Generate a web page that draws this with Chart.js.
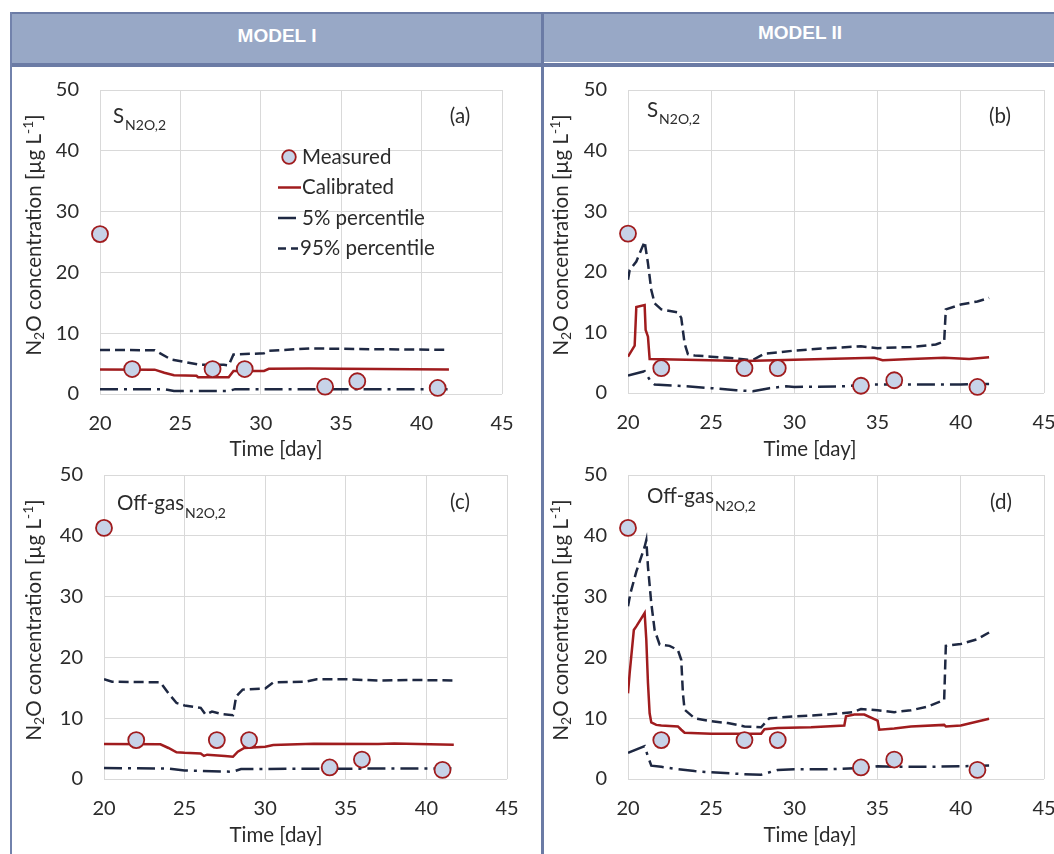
<!DOCTYPE html>
<html><head><meta charset="utf-8">
<script src="https://cdn.jsdelivr.net/npm/chart.js@4.4.0/dist/chart.umd.min.js"></script>
<style>
html,body{margin:0;padding:0;background:#fff;}
body{width:1054px;height:854px;overflow:hidden;position:relative;}
.bar{position:absolute;}
canvas{position:absolute;}
.hdr{position:absolute;color:#fff;font:bold 19px "Liberation Sans",Arial,sans-serif;transform:translate(-50%,-50%);white-space:nowrap;}
</style></head><body>
<div class="bar" style="left:10px;top:13px;width:1044px;height:52px;background:#98A8C6"></div>
<div class="bar" style="left:10px;top:12px;width:1044px;height:2px;background:#6B7BA5"></div>
<div class="bar" style="left:10px;top:63px;width:1044px;height:4px;background:#6B7BA5"></div>
<div class="bar" style="left:544px;top:62px;width:510px;height:1px;background:#ffffff"></div>
<div class="bar" style="left:10px;top:12px;width:2px;height:842px;background:#7282AC"></div>
<div class="bar" style="left:541px;top:12px;width:3px;height:842px;background:#6B7BA5"></div>
<div class="hdr" style="left:277px;top:35.5px">MODEL I</div>
<div class="hdr" style="left:800px;top:33px">MODEL II</div>

<canvas id="cA" width="529" height="400" style="left:12px;top:67px;width:529px;height:400px"></canvas>
<canvas id="cB" width="512" height="400" style="left:544px;top:67px;width:512px;height:400px"></canvas>
<canvas id="cC" width="529" height="402" style="left:12px;top:452px;width:529px;height:402px"></canvas>
<canvas id="cD" width="512" height="402" style="left:544px;top:452px;width:512px;height:402px"></canvas>

<script>
// ---------------- DATA ----------------
const measuredDays = [20, 22, 27, 29, 34, 36, 41];
const measuredS = [26.3, 4.1, 4.1, 4.1, 1.2, 2.1, 1.0];
const measuredOffGas = [41.3, 6.4, 6.4, 6.4, 1.9, 3.2, 1.5];

// Model I - S_N2O,2 (a)
const calDaysA = [20, 23.4, 24.0, 24.6, 26.0, 26.1, 28.0, 28.3, 30.2, 30.5, 33, 35, 41.7];
const calA     = [4.05, 4.0, 3.5, 3.1, 3.0, 2.75, 2.75, 3.8, 3.8, 4.15, 4.2, 4.15, 4.05];
const p95DaysA = [20, 23.4, 24.4, 25.4, 26.2, 27.7, 28.0, 28.3, 30.2, 30.5, 33.1, 36, 41.7];
const p95A     = [7.25, 7.2, 5.7, 5.2, 4.8, 4.8, 4.7, 6.5, 6.7, 7.1, 7.5, 7.4, 7.25];
const p5DaysA  = [20, 24.0, 24.6, 28.0, 28.4, 41.7];
const p5A      = [0.8, 0.8, 0.5, 0.5, 0.8, 0.8];

// Model II - S_N2O,2 (b)
const calDaysB = [20, 20.4, 20.5, 21.0, 21.06, 21.2, 21.3, 23.5, 27, 30, 34.8, 35.3, 37, 39, 40.5, 41.7];
const calB     = [6.0, 7.8, 14.2, 14.5, 10.4, 9.3, 5.6, 5.5, 5.3, 5.5, 5.8, 5.4, 5.6, 5.8, 5.6, 5.9];
const p95DaysB = [20, 20.1, 20.5, 21.0, 21.2, 21.4, 21.6, 22, 23, 23.2, 23.4, 23.6, 24, 25, 26, 27.2, 27.6, 28.2, 29, 30, 32, 34, 35, 37, 38.5, 39, 39.1, 40, 41, 41.7];
const p95B     = [18.7, 20.3, 21.7, 25.0, 21.4, 17.0, 14.8, 13.8, 13.3, 12.4, 8.2, 6.4, 6.2, 6.0, 5.8, 5.5, 5.6, 6.5, 6.7, 7.0, 7.4, 7.7, 7.4, 7.6, 8.0, 8.5, 13.8, 14.6, 15.1, 15.7];
const p5DaysB  = [20, 21.0, 21.3, 21.6, 23, 25, 26.5, 27.5, 28, 28.5, 29.5, 30, 33, 34.5, 36, 38, 40, 41.7];
const p5B      = [2.9, 3.6, 2.2, 1.4, 1.2, 0.8, 0.45, 0.3, 0.55, 0.8, 1.1, 1.0, 1.1, 1.4, 1.4, 1.4, 1.4, 1.5];

// Model I - Off-gas (c)
const calDaysC = [20, 23.5, 24.0, 24.5, 25.0, 26.0, 26.2, 26.4, 27.5, 28.0, 28.3, 28.7, 30.0, 30.5, 33, 37, 38, 41.7];
const calC     = [5.75, 5.7, 5.1, 4.4, 4.3, 4.2, 3.8, 4.0, 3.8, 3.65, 4.5, 5.1, 5.3, 5.6, 5.8, 5.75, 5.85, 5.65];
const p95DaysC = [20, 20.5, 23.5, 24.0, 24.5, 25.0, 26.0, 26.3, 26.7, 27.3, 28.0, 28.2, 28.6, 30.0, 30.5, 32.5, 33.2, 35, 37, 39, 41.7];
const p95C     = [16.4, 16.0, 15.9, 14.1, 12.5, 12.1, 11.7, 10.6, 11.1, 10.7, 10.5, 13.6, 14.7, 14.9, 15.9, 16.0, 16.4, 16.4, 16.2, 16.3, 16.2];
const p5DaysC  = [20, 24, 25, 28, 28.5, 41.7];
const p5C      = [1.8, 1.7, 1.4, 1.2, 1.65, 1.75];

// Model II - Off-gas (d)
const calDaysD = [20, 20.1, 20.35, 20.5, 21.0, 21.1, 21.2, 21.3, 21.4, 21.7, 22, 23, 23.2, 23.4, 25, 28, 28.2, 29, 31, 33, 33.1, 33.6, 34.2, 35, 35.1, 36, 37, 39, 39.1, 40, 41.7];
const calD     = [14.1, 17.4, 24.5, 25.1, 27.3, 22.9, 15.8, 10.8, 9.3, 8.9, 8.8, 8.65, 8.1, 7.6, 7.45, 7.45, 8.2, 8.4, 8.5, 8.8, 10.3, 10.6, 10.6, 9.6, 8.1, 8.3, 8.65, 8.9, 8.65, 8.8, 9.9];
const p95DaysD = [20, 20.15, 20.5, 21.0, 21.1, 21.2, 21.4, 21.6, 21.9, 22.5, 23, 23.2, 23.3, 23.4, 24, 25, 26, 27, 28, 28.5, 30, 32, 33.5, 34, 35, 36, 37, 38, 39, 39.05, 39.1, 40, 41, 41.7];
const p95D     = [28.4, 30.6, 34.1, 38.2, 39.3, 34.9, 28.9, 24.5, 22.1, 21.9, 21.2, 19.6, 14.1, 11.4, 10.0, 9.5, 9.2, 8.65, 8.5, 10.0, 10.3, 10.6, 11.0, 11.5, 11.3, 11.0, 11.3, 11.9, 13.0, 17.4, 21.9, 22.2, 23.0, 24.1];
const p5DaysD  = [20, 21.0, 21.2, 21.4, 22, 23, 24, 25, 27, 28, 28.5, 29, 30, 32, 34, 35, 36, 38, 40, 41.7];
const p5D      = [4.3, 5.4, 3.7, 2.2, 2.0, 1.6, 1.3, 1.1, 0.8, 0.7, 1.1, 1.5, 1.6, 1.6, 1.8, 2.1, 2.0, 2.0, 2.1, 2.2];

const xTicks = [20, 25, 30, 35, 40, 45];
const yTicks = [0, 10, 20, 30, 40, 50];
const legendLabels = ['Measured', 'Calibrated', '5% percentile', '95% percentile'];

// ---------------- STYLE ----------------
const FONT = 'Lato, "Open Sans", sans-serif';
const FS = 20.5;      // text size
const FSUB = 14;      // sub/superscript size
const TXT = '#2b2b2b';
const GRID = '#D9D9D9';
const RED = '#A01C1E';
const NAVY = '#1E2842';
const DASH5 = [18, 6, 3, 6];
const DASH95 = [10, 5];

function pts(xs, ys) { return xs.map((x, i) => ({ x: x, y: ys[i] })); }

function richText(ctx, segs, x, y, align) {
  let total = 0;
  segs.forEach(s => { ctx.font = s.size + 'px ' + FONT; s.w = ctx.measureText(s.t).width; total += s.w; });
  let cx = align === 'center' ? x - total / 2 : x;
  segs.forEach(s => {
    ctx.font = s.size + 'px ' + FONT;
    ctx.textAlign = 'left';
    ctx.textBaseline = 'middle';
    ctx.fillText(s.t, cx, y + (s.dy || 0));
    cx += s.w;
  });
}

function textPlugin(cfg) {
  return {
    id: 'panelText',
    afterDraw(chart) {
      const ctx = chart.ctx;
      ctx.save();
      ctx.fillStyle = TXT;
      // y axis title
      ctx.save();
      ctx.translate(cfg.yTitle[0], cfg.yTitle[1]);
      ctx.rotate(-Math.PI / 2);
      richText(ctx, [
        { t: 'N', size: FS }, { t: '2', size: FSUB, dy: 5 },
        { t: 'O concentration [µg L', size: FS }, { t: '-1', size: FSUB, dy: -6 }, { t: ']', size: FS }
      ], 0, 0, 'center');
      ctx.restore();
      // x axis title
      ctx.font = FS + 'px ' + FONT;
      ctx.textAlign = 'center';
      ctx.textBaseline = 'middle';
      ctx.fillText('Time [day]', cfg.xTitle[0], cfg.xTitle[1]);
      // annotation
      ctx.textAlign = 'left';
      ctx.fillText(cfg.ann, cfg.annPos[0], cfg.annPos[1]);
      const w = ctx.measureText(cfg.ann).width;
      ctx.font = FSUB + 'px ' + FONT;
      ctx.fillText('N2O,2', cfg.annPos[0] + w + 1, cfg.annPos[1] + cfg.subDy);
      // panel letter
      ctx.font = FS + 'px ' + FONT;
      ctx.textAlign = 'center';
      ctx.fillText(cfg.letter, cfg.letterPos[0], cfg.letterPos[1]);
      // legend
      if (cfg.legend) {
        const lx = cfg.legend[0], ly = cfg.legend[1], gap = 30.5;
        ctx.beginPath();
        ctx.arc(lx + 11, ly, 6.8, 0, Math.PI * 2);
        ctx.fillStyle = '#C7D3E8'; ctx.fill();
        ctx.lineWidth = 1.8; ctx.strokeStyle = RED; ctx.stroke();
        ctx.setLineDash([]);
        ctx.lineWidth = 2.5; ctx.strokeStyle = RED;
        ctx.beginPath(); ctx.moveTo(lx, ly + gap); ctx.lineTo(lx + 23, ly + gap); ctx.stroke();
        ctx.strokeStyle = NAVY; ctx.setLineDash(DASH5);
        ctx.beginPath(); ctx.moveTo(lx, ly + gap * 2); ctx.lineTo(lx + 18, ly + gap * 2); ctx.stroke();
        ctx.setLineDash([8, 5]);
        ctx.beginPath(); ctx.moveTo(lx, ly + gap * 3); ctx.lineTo(lx + 20, ly + gap * 3); ctx.stroke();
        ctx.setLineDash([]);
        ctx.fillStyle = TXT;
        ctx.font = FS + 'px ' + FONT;
        ctx.textAlign = 'left'; ctx.textBaseline = 'middle';
        legendLabels.forEach((l, i) => ctx.fillText(l, lx + (i === 3 ? 22 : 24), ly + gap * i));
      }
      ctx.restore();
    }
  };
}

function makeChart(id, cfg) {
  return new Chart(document.getElementById(id), {
    type: 'line',
    data: {
      datasets: [
        { label: legendLabels[0], data: pts(measuredDays, cfg.meas), showLine: false, pointRadius: 8, pointHoverRadius: 8,
          pointBackgroundColor: '#C7D3E8', pointBorderColor: RED, pointBorderWidth: 1.8, clip: false },
        { label: legendLabels[1], data: pts(cfg.cal[0], cfg.cal[1]), borderColor: RED, borderWidth: 2.5, pointRadius: 0, tension: 0, fill: false },
        { label: legendLabels[2], data: pts(cfg.p5[0], cfg.p5[1]), borderColor: NAVY, borderWidth: 2.5, borderDash: DASH5, pointRadius: 0, tension: 0, fill: false },
        { label: legendLabels[3], data: pts(cfg.p95[0], cfg.p95[1]), borderColor: NAVY, borderWidth: 2.5, borderDash: DASH95, pointRadius: 0, tension: 0, fill: false }
      ]
    },
    options: {
      responsive: false, animation: false, events: [],
      layout: { padding: { left: 0, top: 23, right: cfg.padR, bottom: 0 } },
      plugins: { legend: { display: false }, tooltip: { enabled: false } },
      scales: {
        x: {
          type: 'linear', min: xTicks[0], max: xTicks[xTicks.length - 1],
          afterBuildTicks: s => { s.ticks = xTicks.map(v => ({ value: v })); },
          ticks: { padding: 18, color: TXT, font: { size: 20, family: FONT } },
          grid: { color: GRID, drawTicks: false, lineWidth: 1 },
          border: { display: false },
          afterFit: s => { s.height = cfg.xH; s.paddingLeft = 0; s.paddingRight = 0; }
        },
        y: {
          type: 'linear', min: yTicks[0], max: yTicks[yTicks.length - 1],
          afterBuildTicks: s => { s.ticks = yTicks.map(v => ({ value: v })); },
          ticks: { padding: 21, color: TXT, font: { size: 20, family: FONT } },
          grid: { color: GRID, drawTicks: false, lineWidth: 1 },
          border: { display: false },
          afterFit: s => { s.width = cfg.yW; s.paddingTop = 0; s.paddingBottom = 0; }
        }
      }
    },
    plugins: [textPlugin(cfg)]
  });
}

function build() {
  Chart.defaults.font.family = FONT;
  makeChart('cA', { meas: measuredS, cal: [calDaysA, calA], p5: [p5DaysA, p5A], p95: [p95DaysA, p95A],
    yW: 88, xH: 73, padR: 39, yTitle: [22, 168], xTitle: [264, 382],
    ann: 'S', annPos: [101, 49], subDy: 9, letter: '(a)', letterPos: [448, 49], legend: [266, 90] });
  makeChart('cB', { meas: measuredS, cal: [calDaysB, calB], p5: [p5DaysB, p5B], p95: [p95DaysB, p95B],
    yW: 84, xH: 74, padR: 12, yTitle: [17, 168], xTitle: [266, 382],
    ann: 'S', annPos: [103, 43], subDy: 9, letter: '(b)', letterPos: [456, 49] });
  makeChart('cC', { meas: measuredOffGas, cal: [calDaysC, calC], p5: [p5DaysC, p5C], p95: [p95DaysC, p95C],
    yW: 92, xH: 75, padR: 34, yTitle: [22, 168], xTitle: [264, 383],
    ann: 'Off-gas', annPos: [105, 51], subDy: 10, letter: '(c)', letterPos: [448, 50] });
  makeChart('cD', { meas: measuredOffGas, cal: [calDaysD, calD], p5: [p5DaysD, p5D], p95: [p95DaysD, p95D],
    yW: 84, xH: 75, padR: 12, yTitle: [17, 168], xTitle: [266, 383],
    ann: 'Off-gas', annPos: [103, 44], subDy: 10, letter: '(d)', letterPos: [457, 50] });
}

if (document.fonts && document.fonts.load) {
  Promise.all([document.fonts.load('20px Lato'), document.fonts.load('14px Lato')]).then(build, build);
} else { build(); }
</script>
</body></html>
